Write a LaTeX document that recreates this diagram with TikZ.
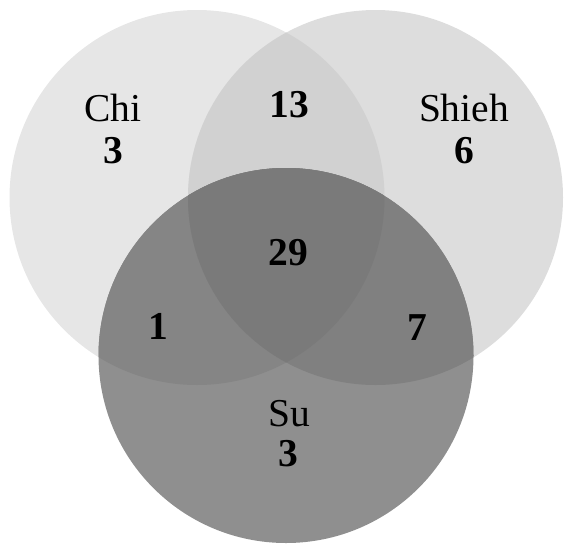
\documentclass[tikz,border=0pt]{standalone}
\usepackage{fontspec}
\setmainfont{Liberation Serif}
\definecolor{chionly}{gray}{0.902}
\definecolor{shiehonly}{gray}{0.866}
\definecolor{chishieh}{gray}{0.82}
\definecolor{suonly}{gray}{0.56}
\definecolor{chisu}{gray}{0.52}
\definecolor{shiehsu}{gray}{0.50}
\definecolor{allthree}{gray}{0.48}
\tikzset{
  lbl/.style={anchor=base, inner sep=0pt, text=black, font=\fontsize{39.5}{40}\selectfont},
  num/.style={anchor=base, inner sep=0pt, text=black, font=\fontsize{39.5}{40}\selectfont\bfseries},
  rad/.style={radius=187.5pt}
}
\begin{document}
\begin{tikzpicture}[x=1pt,y=-1pt]
\useasboundingbox (0,0) rectangle (564,544);
\coordinate (C1) at (197,197.5);
\coordinate (C2) at (375.5,197.5);
\coordinate (C3) at (286,355.5);
% single circles
\fill[chionly] (C1) circle[rad];
\fill[shiehonly] (C2) circle[rad];
\begin{scope}
  \clip (C1) circle[rad];
  \fill[chishieh] (C2) circle[rad];
\end{scope}
\fill[suonly] (C3) circle[rad];
\begin{scope}
  \clip (C3) circle[rad];
  \fill[chisu] (C1) circle[rad];
  \fill[shiehsu] (C2) circle[rad];
  \clip (C1) circle[rad];
  \fill[allthree] (C2) circle[rad];
\end{scope}
% labels
\node[lbl] (chi) at (113,121) {Chi};
\node[num] (chin) at (113,163) {3};
\node[lbl] (shieh) at (464,121) {Shieh};
\node[num] (shiehn) at (464,163) {6};
\node[num] (cs) at (289,117) {13};
\node[num] (all) at (288,265) {29};
\node[num] (csu) at (158,339) {1};
\node[num] (ssu) at (417,340) {7};
\node[lbl] (su) at (289,426) {Su};
\node[num] (sun) at (288,466) {3};
\end{tikzpicture}
\end{document}
